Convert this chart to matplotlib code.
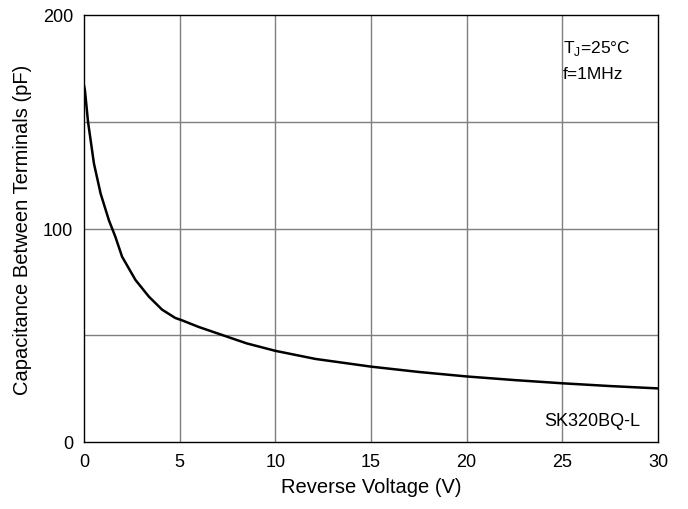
import numpy as np
import matplotlib.pyplot as plt

plt.rcParams['font.family'] = ['Liberation Sans', 'DejaVu Sans']
plt.rcParams['mathtext.fontset'] = 'custom'
plt.rcParams['mathtext.rm'] = 'Liberation Sans'

# Curve
voltage = [0, 0.05, 0.21, 0.52, 0.87, 1.30, 1.64, 1.99, 2.69, 3.39, 4.08, 4.77, 5.12, 5.99,
           7.26, 8.5, 10, 12.1, 15, 17.5, 20, 22.5, 25, 27.5, 30]
capacitance = [167, 164.6, 150, 130.4, 116.3, 103.9, 96.1, 86.8, 75.9, 68.1, 62.0, 58.1, 57.0, 53.9,
               50, 46.2, 42.7, 38.9, 35.3, 32.8, 30.7, 29.0, 27.5, 26.2, 25.1]

x_ticks = [0, 5, 10, 15, 20, 25, 30]
y_ticks = [0, 100, 200]
y_grid = [50, 100, 150]

fig = plt.figure(figsize=(6.88, 5.10), dpi=100)
ax = fig.add_axes([84 / 688, 1 - 443 / 510, 574 / 688, 427 / 510])

for xv in x_ticks[1:-1]:
    ax.axvline(xv, color='#7f7f7f', lw=1.0, zorder=1)
for yv in y_grid:
    ax.axhline(yv, color='#7f7f7f', lw=1.0, zorder=1)

ax.plot(voltage, capacitance, color='black', lw=1.8, zorder=3)

ax.set_xlim(0, 30)
ax.set_ylim(0, 200)
ax.set_xticks(x_ticks)
ax.set_yticks(y_ticks)
ax.tick_params(length=0, labelsize=13, pad=8)
for s in ax.spines.values():
    s.set_color('black')
    s.set_linewidth(1.0)

ax.set_xlabel('Reverse Voltage (V)', fontsize=14.5, labelpad=5)
ax.set_ylabel('Capacitance Between Terminals (pF)', fontsize=14.5, labelpad=8)

ax.text(0.834, 0.925, r'T$_\mathregular{J}$=25°C', transform=ax.transAxes,
        ha='left', va='center', fontsize=12.5)
ax.text(0.834, 0.864, 'f=1MHz', transform=ax.transAxes,
        ha='left', va='center', fontsize=12.5)
ax.text(0.969, 0.050, 'SK320BQ-L', transform=ax.transAxes,
        ha='right', va='center', fontsize=13)

fig.savefig('out.png', dpi=100)
